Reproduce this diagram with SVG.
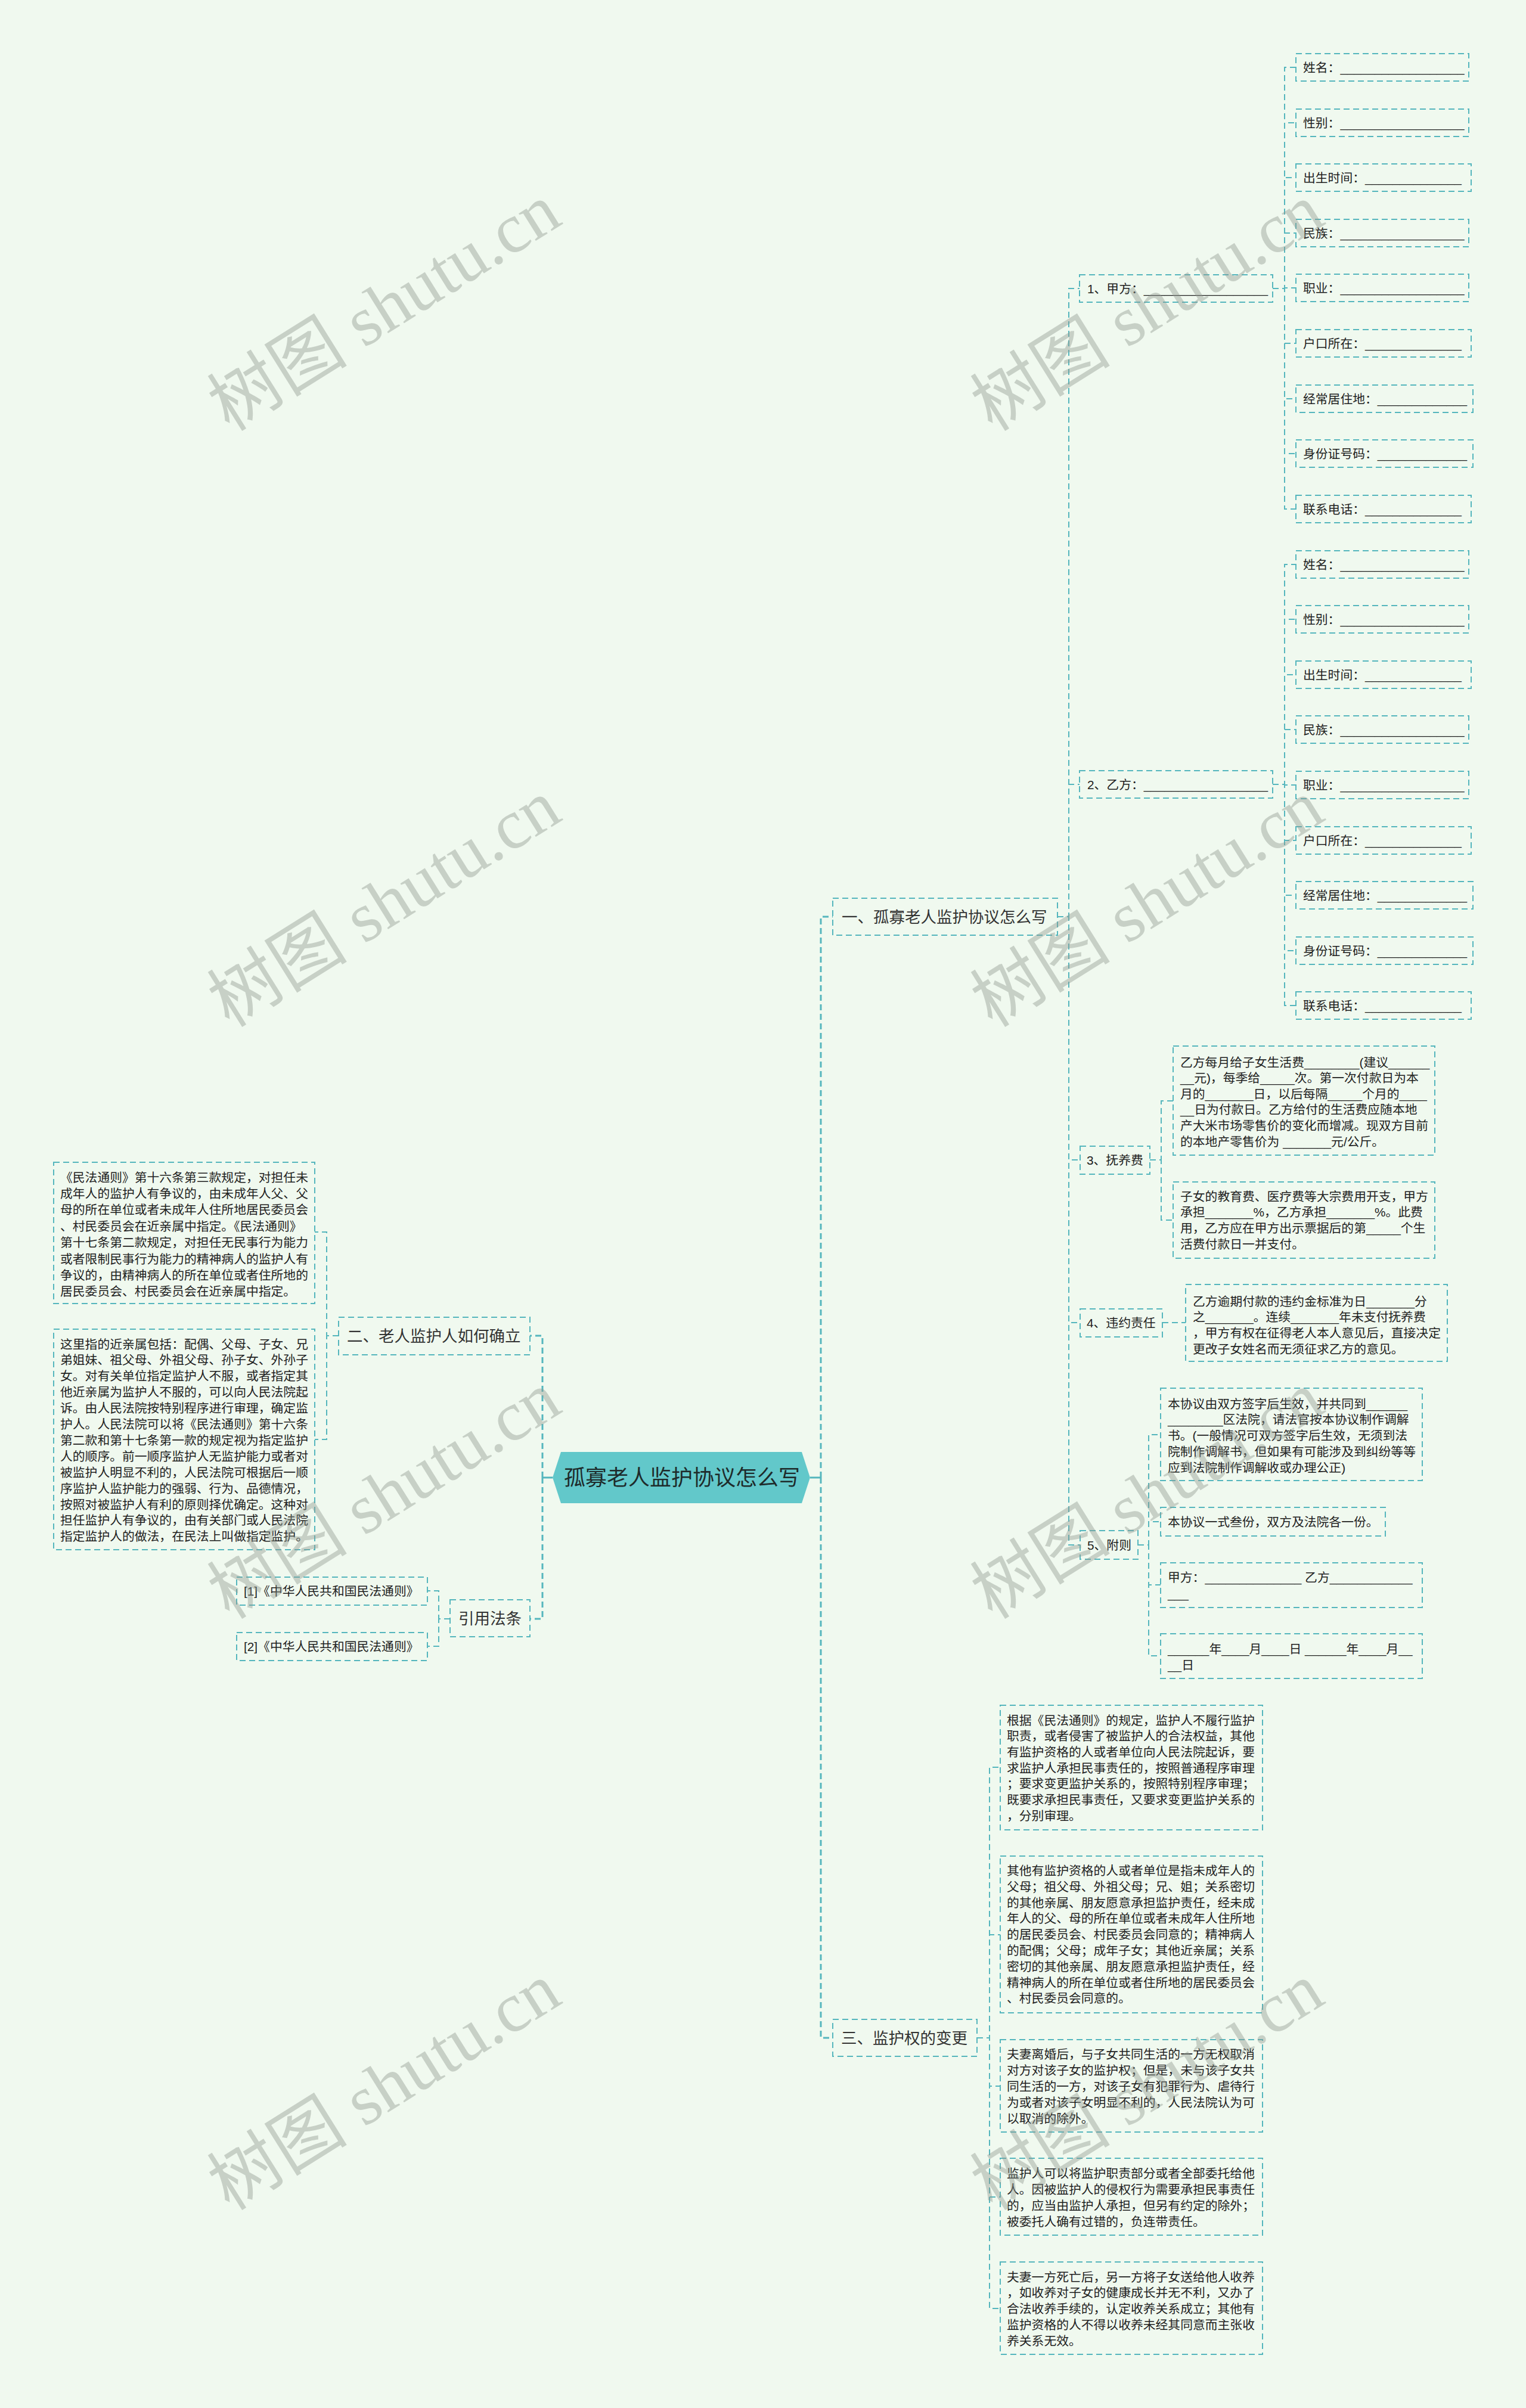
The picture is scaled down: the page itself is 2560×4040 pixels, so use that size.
<svg xmlns="http://www.w3.org/2000/svg" width="2560" height="4040" viewBox="0 0 2560 4040">
<style>
.bg{fill:#f0f9ef}
.box{fill:none;stroke:#55b6bd;stroke-width:2;stroke-dasharray:10 6}
.c{fill:none;stroke:#55b6bd;stroke-width:2;stroke-dasharray:10 6}
.tr{stroke-width:3}
.solid{fill:none;stroke:#55b6bd;stroke-width:3}
text{font-family:"Liberation Sans","Noto Sans CJK SC",sans-serif;fill:#222}
.s{font-size:20.8px}
.b{font-size:26.5px;fill:#333}
.m{font-size:36px;fill:#1e2b2b}
.wm{font-family:"Liberation Serif","Noto Sans CJK SC",serif;font-size:118px;fill:#8f988f;opacity:.42}
</style>
<rect class="bg" x="0" y="0" width="2560" height="4040"/>

<g id="connectors">
  <path class="solid" d="M1359,2479 H1377"/>
  <path class="solid" d="M927,2479 H910"/>
  <path class="c tr" d="M1377,2479 V1538 H1397"/>
  <path class="c tr" d="M1377,2479 V3419 H1397"/>
  <path class="c tr" d="M910,2479 V2241 H889"/>
  <path class="c tr" d="M910,2479 V2716 H889"/>
  <path class="c" d="M1774,1538 H1793 V484 H1811"/>
  <path class="c" d="M1774,1538 H1793 V1316 H1811"/>
  <path class="c" d="M1774,1538 H1793 V1946 H1812"/>
  <path class="c" d="M1774,1538 H1793 V2219 H1812"/>
  <path class="c" d="M1774,1538 H1793 V2592 H1812"/>
  <path class="c" d="M2135,484 H2155 V113 H2174"/>
  <path class="c" d="M2135,484 H2155 V206 H2174"/>
  <path class="c" d="M2135,484 H2155 V298 H2174"/>
  <path class="c" d="M2135,484 H2155 V391 H2174"/>
  <path class="c" d="M2135,484 H2155 V483 H2174"/>
  <path class="c" d="M2135,484 H2155 V576 H2174"/>
  <path class="c" d="M2135,484 H2155 V669 H2174"/>
  <path class="c" d="M2135,484 H2155 V761 H2174"/>
  <path class="c" d="M2135,484 H2155 V854 H2174"/>
  <path class="c" d="M2135,1316 H2155 V947 H2174"/>
  <path class="c" d="M2135,1316 H2155 V1039 H2174"/>
  <path class="c" d="M2135,1316 H2155 V1132 H2174"/>
  <path class="c" d="M2135,1316 H2155 V1224 H2174"/>
  <path class="c" d="M2135,1316 H2155 V1317 H2174"/>
  <path class="c" d="M2135,1316 H2155 V1410 H2174"/>
  <path class="c" d="M2135,1316 H2155 V1502 H2174"/>
  <path class="c" d="M2135,1316 H2155 V1595 H2174"/>
  <path class="c" d="M2135,1316 H2155 V1687 H2174"/>
  <path class="c" d="M1929,1946 H1948 V1847 H1968"/>
  <path class="c" d="M1929,1946 H1948 V2047 H1968"/>
  <path class="c" d="M1950,2219 H1989"/>
  <path class="c" d="M1909,2592 H1927 V2407 H1947"/>
  <path class="c" d="M1909,2592 H1927 V2553 H1947"/>
  <path class="c" d="M1909,2592 H1927 V2659 H1947"/>
  <path class="c" d="M1909,2592 H1927 V2778 H1947"/>
  <path class="c" d="M1639,3419 H1660 V2965 H1678"/>
  <path class="c" d="M1639,3419 H1660 V3246 H1678"/>
  <path class="c" d="M1639,3419 H1660 V3500 H1678"/>
  <path class="c" d="M1639,3419 H1660 V3686 H1678"/>
  <path class="c" d="M1639,3419 H1660 V3873 H1678"/>
  <path class="c" d="M568,2241 H548 V2067 H528"/>
  <path class="c" d="M568,2241 H548 V2415 H528"/>
  <path class="c" d="M755,2716 H736 V2669 H717"/>
  <path class="c" d="M755,2716 H736 V2762 H717"/>
</g>

<g id="root">
  <polygon points="927,2479 941,2436 1345,2436 1359,2479 1345,2522 941,2522" fill="#62c8ca"/>
  <text class="m" x="1144" y="2492" text-anchor="middle">孤寡老人监护协议怎么写</text>
</g>

<g id="b1">
  <rect class="box" x="1397" y="1507" width="377" height="62"/>
  <text class="b" x="1412" y="1548">一、孤寡老人监护协议怎么写</text>
</g>
<g id="b2">
  <rect class="box" x="568" y="2210" width="321" height="63"/>
  <text class="b" x="582" y="2251">二、老人监护人如何确立</text>
</g>
<g id="b3">
  <rect class="box" x="1397" y="3388" width="242" height="62"/>
  <text class="b" x="1411" y="3429">三、监护权的变更</text>
</g>
<g id="b4">
  <rect class="box" x="755" y="2684" width="134" height="62"/>
  <text class="b" x="769" y="2725">引用法条</text>
</g>

<g id="jiafang">
  <rect class="box" x="1811" y="461" width="324" height="46"/>
  <text class="s" x="1824" y="491.5">1、甲方：__________________</text>
</g>
<g id="jf-1"><rect class="box" x="2174" y="90" width="290" height="46"/><text class="s" x="2186" y="120.5">姓名：__________________</text></g>
<g id="jf-2"><rect class="box" x="2174" y="183" width="290" height="46"/><text class="s" x="2186" y="213.5">性别：__________________</text></g>
<g id="jf-3"><rect class="box" x="2174" y="275" width="294" height="46"/><text class="s" x="2186" y="305.5">出生时间：______________</text></g>
<g id="jf-4"><rect class="box" x="2174" y="368" width="290" height="46"/><text class="s" x="2186" y="398.5">民族：__________________</text></g>
<g id="jf-5"><rect class="box" x="2174" y="460" width="290" height="46"/><text class="s" x="2186" y="490.5">职业：__________________</text></g>
<g id="jf-6"><rect class="box" x="2174" y="553" width="294" height="46"/><text class="s" x="2186" y="583.5">户口所在：______________</text></g>
<g id="jf-7"><rect class="box" x="2174" y="646" width="297" height="46"/><text class="s" x="2186" y="676.5">经常居住地：_____________</text></g>
<g id="jf-8"><rect class="box" x="2174" y="738" width="297" height="46"/><text class="s" x="2186" y="768.5">身份证号码：_____________</text></g>
<g id="jf-9"><rect class="box" x="2174" y="831" width="294" height="46"/><text class="s" x="2186" y="861.5">联系电话：______________</text></g>

<g id="yifang">
  <rect class="box" x="1811" y="1293" width="324" height="46"/>
  <text class="s" x="1824" y="1323.5">2、乙方：__________________</text>
</g>
<g id="yf-1"><rect class="box" x="2174" y="924" width="290" height="46"/><text class="s" x="2186" y="954.5">姓名：__________________</text></g>
<g id="yf-2"><rect class="box" x="2174" y="1016" width="290" height="46"/><text class="s" x="2186" y="1046.5">性别：__________________</text></g>
<g id="yf-3"><rect class="box" x="2174" y="1109" width="294" height="46"/><text class="s" x="2186" y="1139.5">出生时间：______________</text></g>
<g id="yf-4"><rect class="box" x="2174" y="1201" width="290" height="46"/><text class="s" x="2186" y="1231.5">民族：__________________</text></g>
<g id="yf-5"><rect class="box" x="2174" y="1294" width="290" height="46"/><text class="s" x="2186" y="1324.5">职业：__________________</text></g>
<g id="yf-6"><rect class="box" x="2174" y="1387" width="294" height="46"/><text class="s" x="2186" y="1417.5">户口所在：______________</text></g>
<g id="yf-7"><rect class="box" x="2174" y="1479" width="297" height="46"/><text class="s" x="2186" y="1509.5">经常居住地：_____________</text></g>
<g id="yf-8"><rect class="box" x="2174" y="1572" width="297" height="46"/><text class="s" x="2186" y="1602.5">身份证号码：_____________</text></g>
<g id="yf-9"><rect class="box" x="2174" y="1664" width="294" height="46"/><text class="s" x="2186" y="1694.5">联系电话：______________</text></g>

<g id="fuyang">
  <rect class="box" x="1812" y="1923" width="117" height="47"/>
  <text class="s" x="1823" y="1953.5">3、抚养费</text>
</g>
<g id="fuyang-1">
  <rect class="box" x="1968" y="1755" width="439" height="183"/>
  <text class="s" x="1980" y="1789.5"><tspan x="1980" dy="0">乙方每月给子女生活费________(建议______</tspan><tspan x="1980" dy="26.6">__元)，每季给_____次。第一次付款日为本</tspan><tspan x="1980" dy="26.6">月的_______日，以后每隔_____个月的____</tspan><tspan x="1980" dy="26.6">__日为付款日。乙方给付的生活费应随本地</tspan><tspan x="1980" dy="26.6">产大米市场零售价的变化而增减。现双方目前</tspan><tspan x="1980" dy="26.6">的本地产零售价为 _______元/公斤。</tspan></text>
</g>
<g id="fuyang-2">
  <rect class="box" x="1968" y="1983" width="439" height="128"/>
  <text class="s" x="1980" y="2014.5"><tspan x="1980" dy="0">子女的教育费、医疗费等大宗费用开支，甲方</tspan><tspan x="1980" dy="26.7">承担_______%，乙方承担_______%。此费</tspan><tspan x="1980" dy="26.7">用，乙方应在甲方出示票据后的第_____个生</tspan><tspan x="1980" dy="26.7">活费付款日一并支付。</tspan></text>
</g>

<g id="weiyue">
  <rect class="box" x="1812" y="2196" width="138" height="47"/>
  <text class="s" x="1823" y="2227">4、违约责任</text>
</g>
<g id="weiyue-1">
  <rect class="box" x="1989" y="2155" width="439" height="129"/>
  <text class="s" x="2001" y="2190.5"><tspan x="2001" dy="0">乙方逾期付款的违约金标准为日_______分</tspan><tspan x="2001" dy="26.7">之_______。连续_______年未支付抚养费</tspan><tspan x="2001" dy="26.7">，甲方有权在征得老人本人意见后，直接决定</tspan><tspan x="2001" dy="26.7">更改子女姓名而无须征求乙方的意见。</tspan></text>
</g>

<g id="fuze">
  <rect class="box" x="1812" y="2568" width="97" height="48"/>
  <text class="s" x="1824" y="2599.5">5、附则</text>
</g>
<g id="fuze-1">
  <rect class="box" x="1947" y="2329" width="439" height="155"/>
  <text class="s" x="1959" y="2362.5"><tspan x="1959" dy="0">本协议由双方签字后生效，并共同到______</tspan><tspan x="1959" dy="26.75">________区法院，请法官按本协议制作调解</tspan><tspan x="1959" dy="26.75">书。(一般情况可双方签字后生效，无须到法</tspan><tspan x="1959" dy="26.75">院制作调解书，但如果有可能涉及到纠纷等等</tspan><tspan x="1959" dy="26.75">应到法院制作调解收或办理公正)</tspan></text>
</g>
<g id="fuze-2">
  <rect class="box" x="1947" y="2529" width="377" height="48"/>
  <text class="s" x="1959" y="2560.5">本协议一式叁份，双方及法院各一份。</text>
</g>
<g id="fuze-3">
  <rect class="box" x="1947" y="2622" width="439" height="75"/>
  <text class="s" x="1959" y="2654"><tspan x="1959" dy="0">甲方：______________ 乙方____________</tspan><tspan x="1959" dy="26.7">___</tspan></text>
</g>
<g id="fuze-4">
  <rect class="box" x="1947" y="2741" width="439" height="75"/>
  <text class="s" x="1959" y="2774"><tspan x="1959" dy="0">______年____月____日 ______年____月__</tspan><tspan x="1959" dy="26.7">__日</tspan></text>
</g>

<g id="b3-1">
  <rect class="box" x="1678" y="2861" width="440" height="209"/>
  <text class="s" x="1689" y="2893.5"><tspan x="1689" dy="0">根据《民法通则》的规定，监护人不履行监护</tspan><tspan x="1689" dy="26.7">职责，或者侵害了被监护人的合法权益，其他</tspan><tspan x="1689" dy="26.7">有监护资格的人或者单位向人民法院起诉，要</tspan><tspan x="1689" dy="26.7">求监护人承担民事责任的，按照普通程序审理</tspan><tspan x="1689" dy="26.7">；要求变更监护关系的，按照特别程序审理；</tspan><tspan x="1689" dy="26.7">既要求承担民事责任，又要求变更监护关系的</tspan><tspan x="1689" dy="26.7">，分别审理。</tspan></text>
</g>
<g id="b3-2">
  <rect class="box" x="1678" y="3114" width="440" height="263"/>
  <text class="s" x="1689" y="3146"><tspan x="1689" dy="0">其他有监护资格的人或者单位是指未成年人的</tspan><tspan x="1689" dy="26.8">父母；祖父母、外祖父母；兄、姐；关系密切</tspan><tspan x="1689" dy="26.8">的其他亲属、朋友愿意承担监护责任，经未成</tspan><tspan x="1689" dy="26.8">年人的父、母的所在单位或者未成年人住所地</tspan><tspan x="1689" dy="26.8">的居民委员会、村民委员会同意的；精神病人</tspan><tspan x="1689" dy="26.8">的配偶；父母；成年子女；其他近亲属；关系</tspan><tspan x="1689" dy="26.8">密切的其他亲属、朋友愿意承担监护责任，经</tspan><tspan x="1689" dy="26.8">精神病人的所在单位或者住所地的居民委员会</tspan><tspan x="1689" dy="26.8">、村民委员会同意的。</tspan></text>
</g>
<g id="b3-3">
  <rect class="box" x="1678" y="3422" width="440" height="155"/>
  <text class="s" x="1689" y="3453.5"><tspan x="1689" dy="0">夫妻离婚后，与子女共同生活的一方无权取消</tspan><tspan x="1689" dy="27">对方对该子女的监护权；但是，未与该子女共</tspan><tspan x="1689" dy="27">同生活的一方，对该子女有犯罪行为、虐待行</tspan><tspan x="1689" dy="27">为或者对该子女明显不利的，人民法院认为可</tspan><tspan x="1689" dy="27">以取消的除外。</tspan></text>
</g>
<g id="b3-4">
  <rect class="box" x="1678" y="3621" width="440" height="129"/>
  <text class="s" x="1689" y="3653.5"><tspan x="1689" dy="0">监护人可以将监护职责部分或者全部委托给他</tspan><tspan x="1689" dy="27">人。因被监护人的侵权行为需要承担民事责任</tspan><tspan x="1689" dy="27">的，应当由监护人承担，但另有约定的除外；</tspan><tspan x="1689" dy="27">被委托人确有过错的，负连带责任。</tspan></text>
</g>
<g id="b3-5">
  <rect class="box" x="1678" y="3795" width="440" height="155"/>
  <text class="s" x="1689" y="3827.5"><tspan x="1689" dy="0">夫妻一方死亡后，另一方将子女送给他人收养</tspan><tspan x="1689" dy="26.75">，如收养对子女的健康成长并无不利，又办了</tspan><tspan x="1689" dy="26.75">合法收养手续的，认定收养关系成立；其他有</tspan><tspan x="1689" dy="26.75">监护资格的人不得以收养未经其同意而主张收</tspan><tspan x="1689" dy="26.75">养关系无效。</tspan></text>
</g>

<g id="b2-1">
  <rect class="box" x="90" y="1950" width="438" height="237"/>
  <text class="s" x="101" y="1982.5"><tspan x="101" dy="0">《民法通则》第十六条第三款规定，对担任未</tspan><tspan x="101" dy="27.4">成年人的监护人有争议的，由未成年人父、父</tspan><tspan x="101" dy="27.4">母的所在单位或者未成年人住所地居民委员会</tspan><tspan x="101" dy="27.4">、村民委员会在近亲属中指定。《民法通则》</tspan><tspan x="101" dy="27.4">第十七条第二款规定，对担任无民事行为能力</tspan><tspan x="101" dy="27.4">或者限制民事行为能力的精神病人的监护人有</tspan><tspan x="101" dy="27.4">争议的，由精神病人的所在单位或者住所地的</tspan><tspan x="101" dy="27.4">居民委员会、村民委员会在近亲属中指定。</tspan></text>
</g>
<g id="b2-2">
  <rect class="box" x="90" y="2230" width="438" height="370"/>
  <text class="s" x="101" y="2262.5"><tspan x="101" dy="0">这里指的近亲属包括：配偶、父母、子女、兄</tspan><tspan x="101" dy="26.9">弟姐妹、祖父母、外祖父母、孙子女、外孙子</tspan><tspan x="101" dy="26.9">女。对有关单位指定监护人不服，或者指定其</tspan><tspan x="101" dy="26.9">他近亲属为监护人不服的，可以向人民法院起</tspan><tspan x="101" dy="26.9">诉。由人民法院按特别程序进行审理，确定监</tspan><tspan x="101" dy="26.9">护人。人民法院可以将《民法通则》第十六条</tspan><tspan x="101" dy="26.9">第二款和第十七条第一款的规定视为指定监护</tspan><tspan x="101" dy="26.9">人的顺序。前一顺序监护人无监护能力或者对</tspan><tspan x="101" dy="26.9">被监护人明显不利的，人民法院可根据后一顺</tspan><tspan x="101" dy="26.9">序监护人监护能力的强弱、行为、品德情况，</tspan><tspan x="101" dy="26.9">按照对被监护人有利的原则择优确定。这种对</tspan><tspan x="101" dy="26.9">担任监护人有争议的，由有关部门或人民法院</tspan><tspan x="101" dy="26.9">指定监护人的做法，在民法上叫做指定监护。</tspan></text>
</g>

<g id="cite-1">
  <rect class="box" x="397" y="2646" width="320" height="47"/>
  <text class="s" x="409" y="2677">[1]《中华人民共和国民法通则》</text>
</g>
<g id="cite-2">
  <rect class="box" x="397" y="2739" width="320" height="47"/>
  <text class="s" x="409" y="2770">[2]《中华人民共和国民法通则》</text>
</g>

<g id="watermarks">
  <text class="wm" x="644" y="556" text-anchor="middle" transform="rotate(-32 644 515)">树图 shutu.cn</text>
  <text class="wm" x="1924" y="556" text-anchor="middle" transform="rotate(-32 1924 515)">树图 shutu.cn</text>
  <text class="wm" x="644" y="1556" text-anchor="middle" transform="rotate(-32 644 1515)">树图 shutu.cn</text>
  <text class="wm" x="1924" y="1556" text-anchor="middle" transform="rotate(-32 1924 1515)">树图 shutu.cn</text>
  <text class="wm" x="644" y="2549" text-anchor="middle" transform="rotate(-32 644 2508)">树图 shutu.cn</text>
  <text class="wm" x="1924" y="2549" text-anchor="middle" transform="rotate(-32 1924 2508)">树图 shutu.cn</text>
  <text class="wm" x="644" y="3541" text-anchor="middle" transform="rotate(-32 644 3500)">树图 shutu.cn</text>
  <text class="wm" x="1924" y="3541" text-anchor="middle" transform="rotate(-32 1924 3500)">树图 shutu.cn</text>
</g>
</svg>
